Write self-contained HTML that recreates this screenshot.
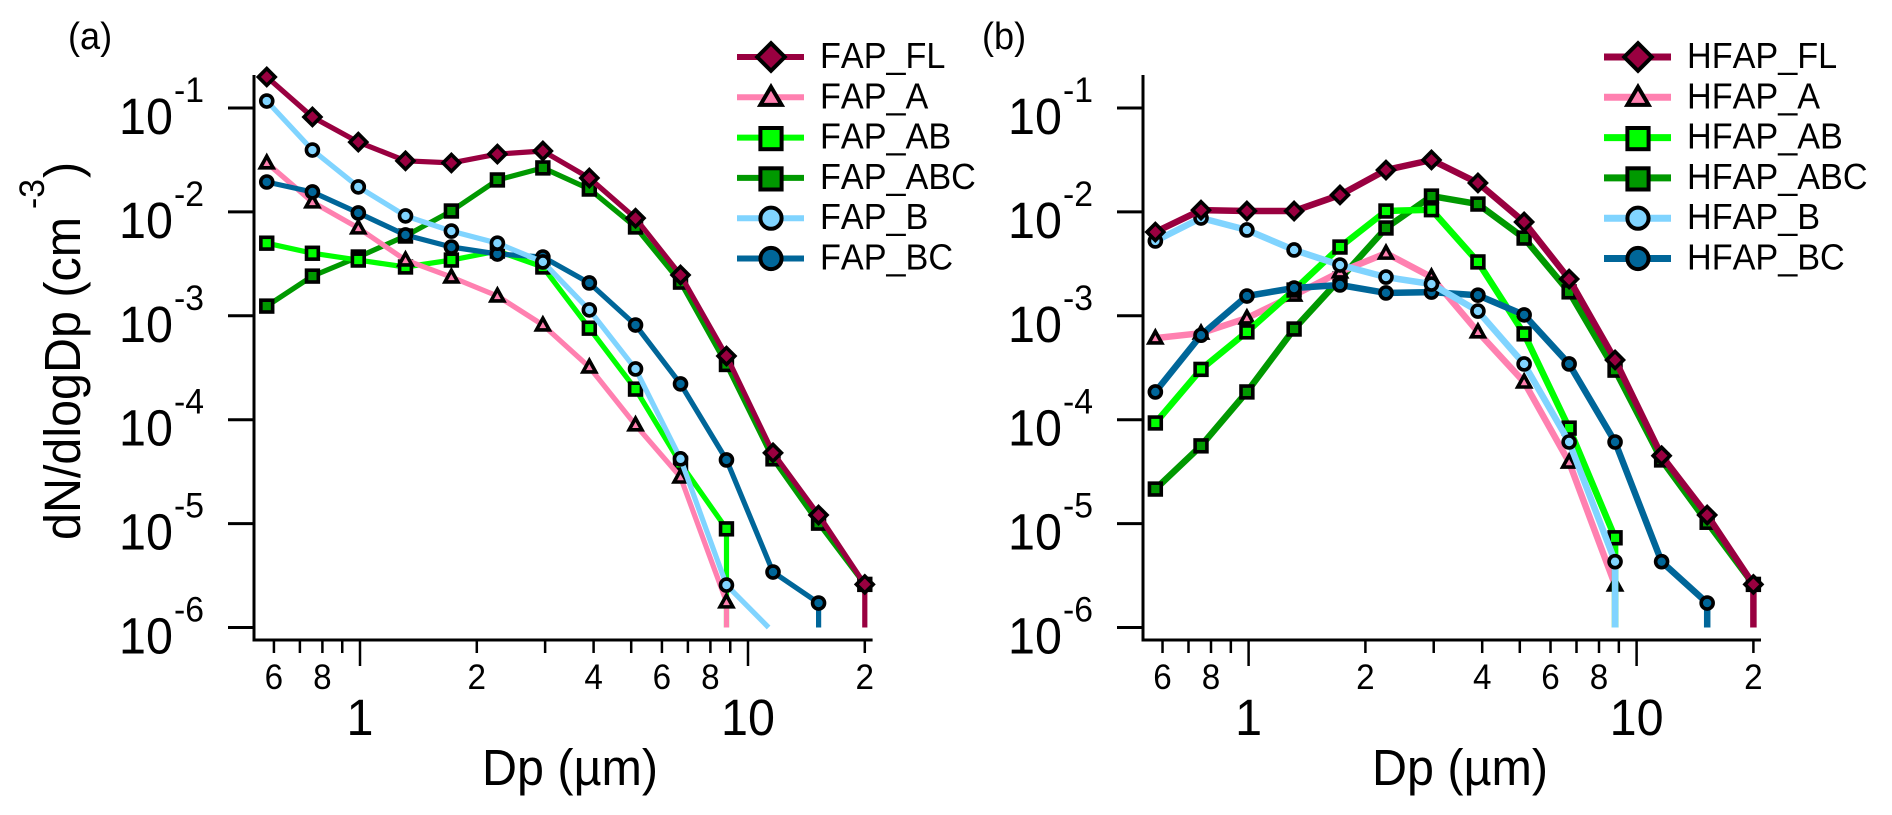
<!DOCTYPE html>
<html>
<head>
<meta charset="utf-8">
<title>Particle size distributions</title>
<style>
html,body{margin:0;padding:0;background:#fff}
svg{display:block;font-family:"Liberation Sans",Arial,sans-serif;fill:#000;font-kerning:none}
</style>
</head>
<body>
<svg id="chart" xmlns="http://www.w3.org/2000/svg" width="1892" height="815" viewBox="0 0 1892 815"></svg>
<script>
// ---- data ----
const dpBins = [0.575,0.754,0.99,1.31,1.72,2.26,2.96,3.9,5.13,6.7,8.8,11.6,15.2,20];

const seriesKeys = ['FL','A','AB','ABC','B','BC'];
const seriesColors = ['#990040','#ff80b0','#00ff00','#009900','#80d4ff','#006699'];
const seriesShapes = ['diamond','triangle','square','square','circle','circle'];

const fapNames = ['FAP_FL','FAP_A','FAP_AB','FAP_ABC','FAP_B','FAP_BC'];
const fapFL  = [0.199,0.082,0.047,0.031,0.0296,0.036,0.0386,0.0212,0.0087,0.00247,4.1e-4,4.8e-5,1.21e-5,2.6e-6];
const fapA   = [0.0296,0.01245,0.007,0.00344,0.00236,0.00155,8.15e-4,3.21e-4,8.9e-5,2.8e-5,1.76e-6];
const fapAB  = [0.005,0.004,0.00344,0.00295,0.00344,0.0042,0.00295,7.6e-4,1.97e-4,3.8e-5,8.9e-6];
const fapABC = [0.00124,0.00241,0.00368,0.00586,0.0102,0.0203,0.0265,0.0166,0.00716,0.00211,3.4e-4,4.2e-5,1.01e-5,2.6e-6];
const fapB   = [0.1167,0.0394,0.0174,0.00915,0.00654,0.005,0.0033,0.00114,3.08e-4,4.2e-5,2.56e-6];
const fapBC  = [0.0194,0.01556,0.00977,0.006,0.00459,0.00393,0.00368,0.00207,8.15e-4,2.21e-4,4.1e-5,3.42e-6,1.72e-6];
// where each series drops out of the plot (Dp of the trailing, marker-free segment)
const fapTailDp = [20,8.8,8.8,null,11.3,15.2];

const hfapNames = ['HFAP_FL','HFAP_A','HFAP_AB','HFAP_ABC','HFAP_B','HFAP_BC'];
const hfapFL  = [0.0064,0.0104,0.0102,0.0102,0.01455,0.0253,0.0316,0.019,0.008,0.00226,3.76e-4,4.5e-5,1.21e-5,2.6e-6];
const hfapA   = [6.1e-4,6.8e-4,9.5e-4,0.00158,0.00264,0.004,0.00236,7e-4,2.3e-4,3.9e-5,2.56e-6];
const hfapAB  = [9.3e-5,3.05e-4,7e-4,0.00177,0.00459,0.0102,0.0105,0.0033,6.7e-4,8.3e-5,7.3e-6];
const hfapABC = [2.15e-5,5.6e-5,1.85e-4,7.46e-4,0.00226,0.007,0.0142,0.0119,0.0056,0.0017,3e-4,4.1e-5,1.03e-5,2.6e-6];
const hfapB   = [0.00525,0.00873,0.0067,0.0043,0.00308,0.00236,0.00202,0.00111,3.44e-4,6.1e-5,4.3e-6];
const hfapBC  = [1.85e-4,6.5e-4,0.00155,0.00185,0.00198,0.00166,0.00169,0.00158,0.00102,3.44e-4,6.1e-5,4.3e-6,1.72e-6];
const hfapTailDp = [20,8.8,8.8,null,8.8,15.2];

const tailValue = 1e-6;
const yTickExponents = [-1,-2,-3,-4,-5,-6];
const xMinorTicks = [0.6,0.7,0.8,0.9,2,3,4,5,6,7,8,9,20];
const xMajorTicks = [1,10];
const xMinorLabels = ['6','8','2','4','6','8','2'];
const xMinorLabelDp = [0.6,0.8,2,4,6,8,20];
const xMajorLabels = ['1','10'];
const xAxisTitle = 'Dp (µm)';
const yAxisTitle = 'dN/dlogDp (cm';

// ---- drawing ----
const svg = document.getElementById('chart');
const NS = 'http://www.w3.org/2000/svg';
function mk(parent, tag, attrs, text) {
  const el = document.createElementNS(NS, tag);
  for (const k in attrs) el.setAttribute(k, attrs[k]);
  if (text !== undefined) el.textContent = text;
  parent.appendChild(el);
  return el;
}
// the reference type is slightly stretched vertically: narrow each run by 5%
function txt(parent, x, y, size, str, anchor, rotated) {
  const a = {transform: 'translate(' + x + ',' + y + ')' + (rotated ? ' rotate(-90)' : '') + ' scale(0.95,1)', 'font-size': size};
  if (anchor) a['text-anchor'] = anchor;
  return mk(parent, 'text', a, str);
}
function markerEl(parent, shape, x, y, fill, big) {
  const sw = big ? 4 : 3.6;
  const common = {fill: fill, stroke: '#000', 'stroke-width': sw, 'stroke-linejoin': 'miter'};
  let el;
  if (shape === 'square') {
    const h = big ? 10.6 : 5.9;
    el = mk(parent, 'rect', Object.assign({x: x - h, y: y - h, width: 2 * h, height: 2 * h}, common));
  } else if (shape === 'circle') {
    el = mk(parent, 'circle', Object.assign({cx: x, cy: y, r: big ? 10.6 : 6}, common));
  } else if (shape === 'diamond') {
    const h = big ? 13.8 : 8.4;
    el = mk(parent, 'polygon', Object.assign({points: [x, y - h, x + h, y, x, y + h, x - h, y].join(' ')}, common));
  } else {
    const w = big ? 10.6 : 6.4, ht = big ? 18 : 11.6;
    el = mk(parent, 'polygon', Object.assign({points: [x, y - 0.58 * ht, x + w, y + 0.42 * ht, x - w, y + 0.42 * ht].join(' ')}, common));
  }
  return el;
}

function drawPanel(cfg) {
  const xScale = d => cfg.x1 + 388 * Math.log10(d);
  const yScale = v => 108 + (-1 - Math.log10(v)) * 103.9;

  const panel = mk(svg, 'g', {});
  
  

  const title = txt(panel, cfg.titleX, 49, 38, cfg.title);
  
  

  // axes
  const yAxis = mk(panel, 'line', {x1: cfg.axisX, x2: cfg.axisX, y1: 75, y2: 641, stroke: '#000', 'stroke-width': 3});
  
  
  const xAxis = mk(panel, 'line', {x1: cfg.axisX - 1.5, x2: cfg.axisEnd, y1: 640, y2: 640, stroke: '#000', 'stroke-width': 3});
  
  

  // y ticks
  yTickExponents.forEach(e => {
    const y = yScale(Math.pow(10, e));
    const t = mk(panel, 'line', {x1: cfg.axisX - 26, x2: cfg.axisX, y1: y, y2: y, stroke: '#000', 'stroke-width': 3});
    
    
    const base = txt(panel, cfg.axisX - 135, y + 26, 51, '10');
    
    
    const exp = txt(panel, cfg.axisX - 80, y - 6, 35.5, String(e));
    
    
  });

  // x ticks
  xMinorTicks.forEach(d => {
    const x = xScale(d);
    const t = mk(panel, 'line', {x1: x, x2: x, y1: 640, y2: 653, stroke: '#000', 'stroke-width': 2.5});
    
    
  });
  xMajorTicks.forEach(d => {
    const x = xScale(d);
    const t = mk(panel, 'line', {x1: x, x2: x, y1: 640, y2: 666, stroke: '#000', 'stroke-width': 2.5});
    
    
  });
  xMinorLabels.forEach((s, i) => {
    const l = txt(panel, xScale(xMinorLabelDp[i]), 689, 35, s, 'middle');
    
    
  });
  xMajorLabels.forEach((s, i) => {
    const l = txt(panel, xScale(xMajorTicks[i]), 735, 51, s, 'middle');
    
    
  });
  const xTitle = txt(panel, cfg.xTitleX, 785, 51, xAxisTitle, 'middle');
  
  

  // series
  cfg.order.forEach(i => {
    const vals = cfg.values[i];
    const g = mk(panel, 'g', {});
    
    
    const pts = vals.map((v, j) => xScale(dpBins[j]).toFixed(1) + ',' + yScale(v).toFixed(1));
    if (cfg.tail[i] !== null) {
      pts.push(xScale(cfg.tail[i]).toFixed(1) + ',' + yScale(tailValue).toFixed(1));
    }
    const line = mk(g, 'polyline', {points: pts.join(' '), fill: 'none', stroke: seriesColors[i], 'stroke-width': cfg.lineW, 'stroke-linejoin': 'round'});
    
    
    vals.forEach((v, j) => {
      const m = markerEl(g, seriesShapes[i], xScale(dpBins[j]), yScale(v), seriesColors[i], false);
      
      
    });
  });

  // legend
  const legend = mk(panel, 'g', {});
  
  
  cfg.names.forEach((n, i) => {
    const y = 57 + i * 40.3;
    const g = mk(legend, 'g', {});
    
    
    const ln = mk(g, 'line', {x1: cfg.legX, x2: cfg.legX + 67, y1: y, y2: y, stroke: seriesColors[i], 'stroke-width': cfg.legW});
    
    
    const m = markerEl(g, seriesShapes[i], cfg.legX + 34, y + (seriesShapes[i] === 'square' ? 1 : 0), seriesColors[i], true);
    
    
    const t = txt(g, cfg.legX + 83, y + 11, 36, n);
    
    
  });
}

drawPanel({
  id: 'a', title: '(a)', titleX: 68, axisX: 254, axisEnd: 872.6, x1: 360, xTitleX: 570,
  names: fapNames, values: [fapFL, fapA, fapAB, fapABC, fapB, fapBC], tail: fapTailDp,
  order: [3, 2, 1, 5, 4, 0], lineW: 5.2, legX: 737, legW: 6
});
drawPanel({
  id: 'b', title: '(b)', titleX: 982, axisX: 1143, axisEnd: 1761, x1: 1248.6, xTitleX: 1460,
  names: hfapNames, values: [hfapFL, hfapA, hfapAB, hfapABC, hfapB, hfapBC], tail: hfapTailDp,
  order: [3, 1, 2, 5, 4, 0], lineW: 6.5, legX: 1604, legW: 7
});

// shared y-axis title (rotated, with superscript placed by hand)
const yT = txt(svg, 80, 540, 51, yAxisTitle, null, true);


const yS = txt(svg, 44, 209, 35.5, '-3', null, true);


const yP = txt(svg, 80, 178, 51, ')', null, true);


</script>
</body>
</html>
